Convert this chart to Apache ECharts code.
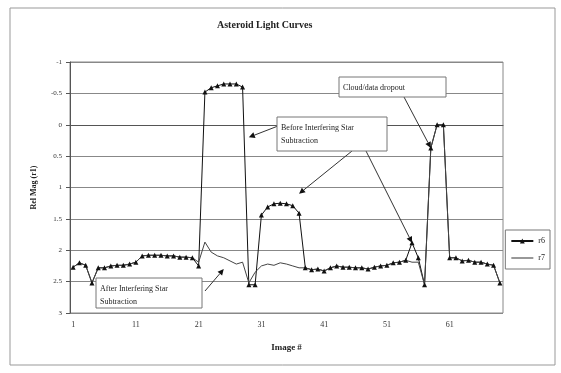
<!DOCTYPE html>
<html>
<head>
<meta charset="utf-8">
<script src="https://cdn.jsdelivr.net/npm/echarts@6/dist/echarts.min.js"></script>
<style>
  html, body { margin: 0; padding: 0; background: #fff; }
  #main { width: 561px; height: 373px; }
</style>
</head>
<body>
<div id="main"></div>
<script>
// image numbers 1..69
var images = [];
for (var i = 1; i <= 69; i++) images.push(String(i));

// r6: before interfering star subtraction
var r6 = [2.27, 2.20, 2.24, 2.52, 2.28, 2.28, 2.25, 2.24, 2.24, 2.22,
          2.19, 2.09, 2.08, 2.08, 2.08, 2.09, 2.09, 2.11, 2.11, 2.12,
          2.25, -0.52, -0.59, -0.62, -0.65, -0.65, -0.65, -0.60, 2.55, 2.55,
          1.44, 1.31, 1.26, 1.25, 1.26, 1.29, 1.41, 2.28, 2.31, 2.30,
          2.33, 2.28, 2.25, 2.27, 2.27, 2.28, 2.28, 2.30, 2.27, 2.25,
          2.24, 2.20, 2.19, 2.16, 1.88, 2.12, 2.55, 0.37, 0.00, 0.00,
          2.12, 2.12, 2.17, 2.16, 2.19, 2.19, 2.22, 2.24, 2.52];

// r7: after subtraction
var r7 = [2.27, 2.20, 2.24, 2.52, 2.28, 2.28, 2.25, 2.24, 2.24, 2.22,
          2.19, 2.09, 2.08, 2.08, 2.08, 2.09, 2.09, 2.11, 2.11, 2.12,
          2.19, 1.87, 2.03, 2.09, 2.12, 2.17, 2.22, 2.19, 2.52, 2.35,
          2.25, 2.22, 2.24, 2.20, 2.22, 2.25, 2.28, 2.28, 2.31, 2.30,
          2.33, 2.28, 2.25, 2.27, 2.27, 2.28, 2.28, 2.30, 2.27, 2.25,
          2.24, 2.20, 2.19, 2.16, 2.19, 2.19, 2.55, 0.37, 0.00, 0.00,
          2.12, 2.12, 2.17, 2.16, 2.19, 2.19, 2.22, 2.24, 2.52];

var serif = 'Liberation Serif';

var chart = echarts.init(document.getElementById('main'));
var option = {
  animation: false,
  backgroundColor: '#fff',
  title: {
    text: 'Asteroid Light Curves',
    left: 212, top: 15,
    textStyle: { fontFamily: serif, fontSize: 10, fontWeight: 'bold', color: '#222' }
  },
  legend: {
    orient: 'vertical',
    right: 11, top: 230,
    padding: [7, 5, 7, 5],
    itemGap: 9,
    borderColor: '#777', borderWidth: 1,
    itemWidth: 22, itemHeight: 6,
    textStyle: { fontFamily: serif, fontSize: 8, color: '#222' },
    data: [{ name: 'r6' }, { name: 'r7', icon: 'path://M0,0 L20,0 L20,1 L0,1 Z' }]
  },
  grid: { left: 70, right: 58, top: 62, bottom: 60, show: true, borderColor: '#888', borderWidth: 1 },
  xAxis: {
    type: 'category',
    data: images,
    name: 'Image #',
    nameLocation: 'middle',
    nameGap: 30,
    nameTextStyle: { fontFamily: serif, fontSize: 9, fontWeight: 'bold', color: '#222' },
    axisLine: { lineStyle: { color: '#555' } },
    axisTick: { interval: 0, length: 3, lineStyle: { color: '#555' } },
    axisLabel: { interval: 9, fontFamily: serif, fontSize: 8, color: '#333', margin: 8 },
    splitLine: { show: false }
  },
  yAxis: {
    type: 'value',
    inverse: true,
    min: -1, max: 3, interval: 0.5,
    name: 'Rel Mag (r1)',
    nameLocation: 'middle',
    nameGap: 32,
    nameTextStyle: { fontFamily: serif, fontSize: 8, fontWeight: 'bold', color: '#222' },
    axisLine: { show: true, lineStyle: { color: '#555' } },
    axisTick: { show: true, length: 4, lineStyle: { color: '#555' } },
    axisLabel: { fontFamily: serif, fontSize: 7, color: '#333', margin: 8 },
    splitLine: { show: true, lineStyle: { color: '#888', width: 1 } }
  },
  series: [
    {
      name: 'r6', type: 'line', data: r6,
      symbol: 'triangle', symbolSize: 5, showAllSymbol: true,
      itemStyle: { color: '#111' },
      lineStyle: { color: '#111', width: 1 }
    },
    {
      name: 'r7', type: 'line', data: r7,
      symbol: 'none',
      itemStyle: { color: '#444' },
      lineStyle: { color: '#444', width: 1 }
    }
  ]
};
chart.setOption(option);

function px(idx, val) {
  return chart.convertToPixel({ xAxisIndex: 0, yAxisIndex: 0 }, [idx, val]);
}

function arrow(x1, y1, p) {
  var x2 = p[0], y2 = p[1];
  var a = Math.atan2(y2 - y1, x2 - x1);
  var L = 6, W = 3;
  var bx = x2 - L * Math.cos(a), by = y2 - L * Math.sin(a);
  return [
    { type: 'line', shape: { x1: x1, y1: y1, x2: bx, y2: by }, style: { stroke: '#333', lineWidth: 1 }, z: 20 },
    { type: 'polygon', shape: { points: [[x2, y2],
        [bx + W * Math.sin(a), by - W * Math.cos(a)],
        [bx - W * Math.sin(a), by + W * Math.cos(a)]] },
      style: { fill: '#111' }, z: 20 }
  ];
}

function box(x, y, w, h, text) {
  return [
    { type: 'rect', shape: { x: x, y: y, width: w, height: h },
      style: { fill: '#fff', stroke: '#777', lineWidth: 1 }, z: 21 },
    { type: 'text', x: x + 4, y: y + 4,
      style: { text: text, fontFamily: serif, fontSize: 8, fill: '#222', lineHeight: 13 }, z: 22 }
  ];
}

var g = [
  { type: 'rect', shape: { x: 10, y: 8, width: 545, height: 357 },
    style: { fill: 'none', stroke: '#999', lineWidth: 1 }, z: 0 }
];
g = g.concat(arrow(404, 97, px(57, r6[57])));
g = g.concat(arrow(278, 126, px(28, 0.2)));
g = g.concat(arrow(352, 151, px(36, 1.1)));
g = g.concat(arrow(366, 151, px(54, r6[54])));
g = g.concat(arrow(205, 291, px(24, 2.3)));
g = g.concat(box(339, 77, 107, 20, 'Cloud/data dropout'));
g = g.concat(box(277, 117, 110, 34, 'Before Interfering Star\nSubtraction'));
g = g.concat(box(96, 278, 106, 30, 'After Interfering Star\nSubtraction'));

chart.setOption({ graphic: g });
</script>
</body>
</html>
